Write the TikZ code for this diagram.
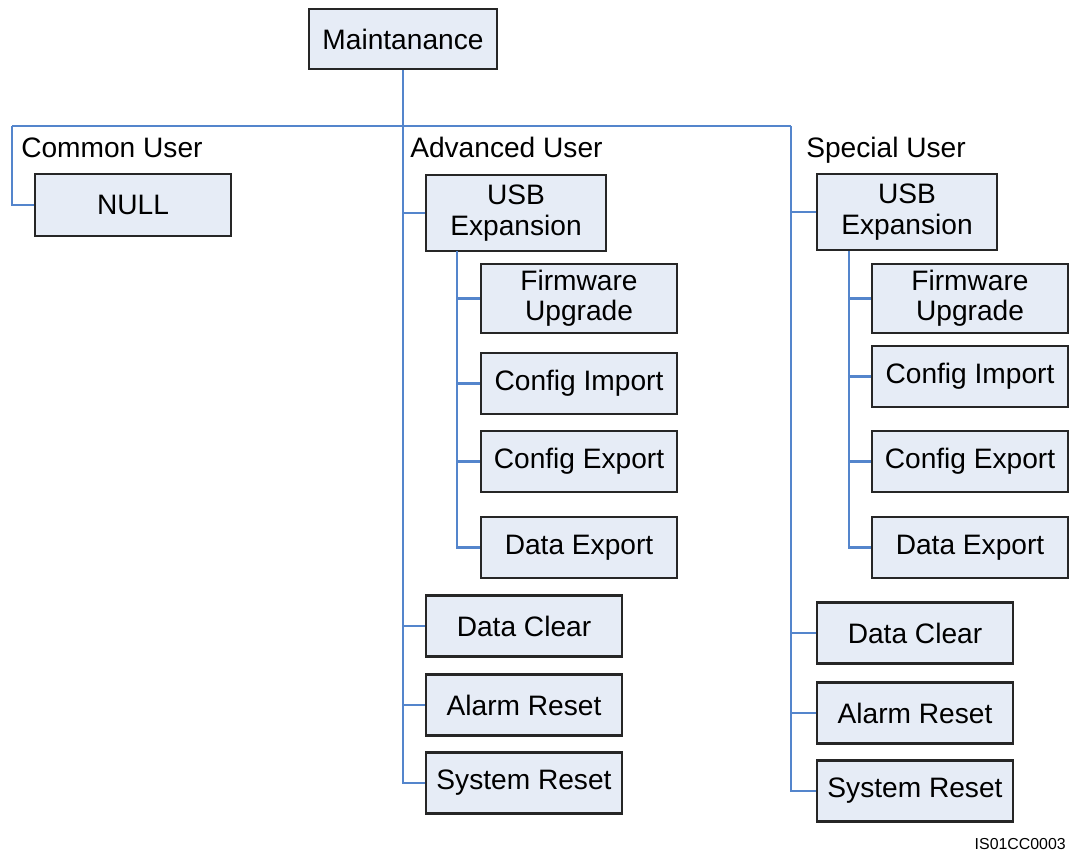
\documentclass[tikz,border=0pt]{standalone}
\usepackage{fontspec}
\setmainfont{Liberation Sans}
\usepackage{tikz}
\definecolor{boxfill}{RGB}{230,236,246}
\definecolor{linkblue}{RGB}{84,133,204}

\begin{document}
\begin{tikzpicture}[x=0.025cm, y=-0.025cm,
      itm/.style={draw=black!85, fill=boxfill, line width=1.5pt,
                  minimum width=4.9cm, minimum height=1.525cm, inner sep=0pt,
                  font=\fontsize{20}{21.5}\selectfont, align=center},
      usb/.style={itm, minimum width=4.5cm, minimum height=1.9cm},
      grp/.style={anchor=base west, inner sep=0pt,
                  font=\fontsize{20}{24}\selectfont},
      link/.style={linkblue, line width=1.6pt}
  ]
    \useasboundingbox (0,0) rectangle (1074,853);
    % top and the three user groups
    \node[itm, minimum width=4.7cm, minimum height=1.5cm] (mt) at (403,39) {Maintanance};
    \coordinate (bar) at (403,126);
    \coordinate (barL) at (12,126);
    \coordinate (barR) at (791,126);
    \node[grp] (cu) at (21,158) {Common User};
    \node[grp] (au) at (410,158) {Advanced User};
    \node[grp] (su) at (806,158) {Special User};
    \node[itm, minimum height=1.55cm] (nl) at (133,205) {NULL};
    % advanced user
    \node[usb] (au-usb) at (516,213) {USB\\Expansion};
    \node[itm, minimum height=1.725cm] (au-fw) at (579,298.5) {Firmware\\Upgrade};
    \node[itm] (au-ci) at (579,383.5) {Config Import};
    \node[itm] (au-ce) at (579,461.5) {Config Export};
    \node[itm] (au-de) at (579,547.5) {Data Export};
    \node[itm] (au-dc) at (524,626) {Data Clear};
    \node[itm] (au-ar) at (524,705) {Alarm Reset};
    \node[itm] (au-sr) at (524,783) {System Reset};
    % special user
    \node[usb] (su-usb) at (907,212) {USB\\Expansion};
    \node[itm, minimum height=1.725cm] (su-fw) at (970,298.5) {Firmware\\Upgrade};
    \node[itm] (su-ci) at (970,376.5) {Config Import};
    \node[itm] (su-ce) at (970,461.5) {Config Export};
    \node[itm] (su-de) at (970,547.5) {Data Export};
    \node[itm] (su-dc) at (915,633) {Data Clear};
    \node[itm] (su-ar) at (915,713) {Alarm Reset};
    \node[itm] (su-sr) at (915,791) {System Reset};
    \coordinate (au-t) at (457,251);
    \coordinate (su-t) at (849,251);
    \node[anchor=base east, inner sep=0pt, font=\fontsize{11.3}{13}\selectfont] (id) at (1066,849) {IS01CC0003};
    % connectors
    \draw[link] (mt) -- (bar);
    \draw[link] (barL) -- (barR);
    \draw[link] (barL) |- (nl);
    \draw[link] (bar) |- (au-sr);
    \draw[link] (barR) |- (su-sr);
    \foreach \n in {usb,dc,ar} {
      \draw[link] (bar |- au-\n) -- (au-\n);
      \draw[link] (barR |- su-\n) -- (su-\n);
    }
    \draw[link] (au-t) |- (au-de);
    \draw[link] (su-t) |- (su-de);
    \foreach \n in {fw,ci,ce} {
      \draw[link] (au-t |- au-\n) -- (au-\n);
      \draw[link] (su-t |- su-\n) -- (su-\n);
    }
  \end{tikzpicture}
\end{document}
